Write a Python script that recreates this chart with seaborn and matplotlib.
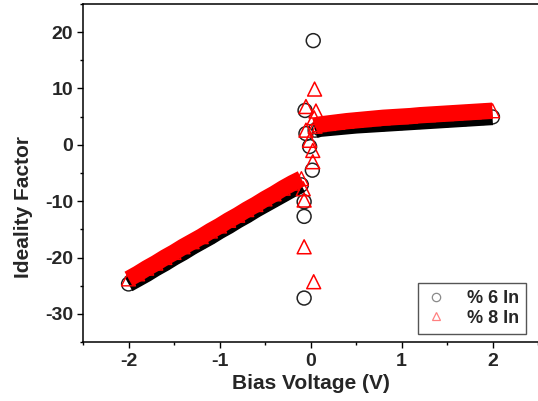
import numpy as np
import pandas as pd
import matplotlib
matplotlib.use("Agg")
import matplotlib.pyplot as plt
from matplotlib.lines import Line2D
from matplotlib.ticker import MultipleLocator
import seaborn as sns

# ---------------- data ----------------
neg_x = [-2.0, -1.9, -1.8, -1.7, -1.6, -1.5, -1.4, -1.3, -1.2, -1.1,
         -1.0, -0.9, -0.8, -0.7, -0.6, -0.5, -0.4, -0.3, -0.2, -0.1]
pos_x = [0.05, 0.1, 0.2, 0.3, 0.4, 0.5, 0.6, 0.7, 0.8, 0.9, 1.0,
         1.1, 1.2, 1.3, 1.4, 1.5, 1.6, 1.7, 1.8, 1.9, 2.0]

in6_neg = [-24.7, -23.8, -22.9, -21.9, -21.0, -20.0, -19.1, -18.1, -17.2, -16.3,
           -15.3, -14.4, -13.4, -12.5, -11.5, -10.6, -9.7, -8.8, -7.9, -7.1]
in8_neg = [-23.8, -22.9, -21.9, -21.0, -20.0, -19.1, -18.1, -17.2, -16.3, -15.3,
           -14.4, -13.4, -12.5, -11.5, -10.6, -9.6, -8.7, -7.7, -6.8, -6.0]

in6_pos = [2.6, 2.85, 3.0, 3.15, 3.3, 3.45, 3.55, 3.65, 3.75, 3.85, 3.95,
           4.05, 4.15, 4.25, 4.35, 4.45, 4.55, 4.65, 4.75, 4.85, 4.95]
in8_pos = [3.3, 3.6, 3.8, 4.0, 4.2, 4.35, 4.5, 4.65, 4.8, 4.9, 5.0,
           5.1, 5.25, 5.35, 5.45, 5.55, 5.65, 5.75, 5.85, 5.95, 6.05]

# scattered points close to 0 V
in6_zero_x = [0.03, -0.06, -0.05, -0.01, 0.02, -0.07, -0.07, -0.07]
in6_zero_y = [18.5, 6.1, 2.0, -0.3, -4.5, -10.1, -12.7, -27.2]
in8_zero_x = [0.045, -0.05, 0.06, 0.04, -0.05, -0.01, 0.025, 0.025, -0.08, -0.07, -0.07, 0.035]
in8_zero_y = [9.9, 6.8, 6.0, 4.8, 2.6, 0.8, -1.0, -3.0, -7.8, -9.8, -18.1, -24.3]

labels = ["% 6 In", "% 8 In"]
x_ticks = [-2, -1, 0, 1, 2]
y_ticks = [-30, -20, -10, 0, 10, 20]

# ---------------- style ----------------
sns.set_theme(style="ticks")
plt.rcParams["font.family"] = ["Liberation Sans", "DejaVu Sans"]
plt.rcParams["font.weight"] = "bold"
plt.rcParams["axes.unicode_minus"] = False

BLACK = "#000000"
RED = "#ff0000"

fig = plt.figure(figsize=(5.38, 4.01), dpi=100)
ax = fig.add_axes([83 / 538, 1 - 342 / 401, 1 - 83 / 538, (342 - 4) / 401])

band_lw = 11.8
ms = 100

# 6 In (black circles)
for xs, ys in [(neg_x, in6_neg), (pos_x, in6_pos)]:
    sns.scatterplot(x=xs, y=ys, ax=ax, marker="o", s=ms, facecolor="none",
                    edgecolor="#1a1a1a", linewidth=1.0, zorder=1.5)
    sns.lineplot(x=xs, y=ys, ax=ax, color=BLACK, lw=band_lw, sort=False,
                 solid_capstyle="butt", solid_joinstyle="round", zorder=2)
sns.scatterplot(x=in6_zero_x, y=in6_zero_y, ax=ax, marker="o", s=ms,
                facecolor="none", edgecolor="#222222", linewidth=1.1, zorder=3)

# 8 In (red triangles)
for xs, ys in [(neg_x, in8_neg), (pos_x, in8_pos)]:
    sns.scatterplot(x=xs, y=ys, ax=ax, marker="^", s=ms, facecolor="none",
                    edgecolor=RED, linewidth=1.0, zorder=3.5)
    sns.lineplot(x=xs, y=ys, ax=ax, color=RED, lw=band_lw, sort=False,
                 solid_capstyle="butt", solid_joinstyle="round", zorder=4)
sns.scatterplot(x=in8_zero_x, y=in8_zero_y, ax=ax, marker="^", s=ms,
                facecolor="none", edgecolor=RED, linewidth=1.1, zorder=5)

# ---------------- axes ----------------
ax.set_xlim(-2.5, 2.5)
ax.set_ylim(-35, 25)
ax.set_xticks(x_ticks)
ax.set_xticklabels([str(v) for v in x_ticks])
ax.set_yticks(y_ticks)
ax.set_yticklabels([str(v) for v in y_ticks])
ax.xaxis.set_minor_locator(MultipleLocator(0.5))
ax.yaxis.set_minor_locator(MultipleLocator(5))

for side in ["left", "bottom", "top"]:
    ax.spines[side].set_visible(True)
    ax.spines[side].set_linewidth(1.1)
    ax.spines[side].set_color("black")
ax.spines["right"].set_visible(False)

ax.tick_params(axis="both", which="major", direction="out", length=4.2,
               width=1.0, color="black", labelsize=14)
ax.tick_params(axis="both", which="minor", direction="out", length=2.2,
               width=1.0, color="black")
ax.tick_params(axis="x", which="both", top=False, pad=4)
ax.tick_params(axis="y", which="both", right=False, pad=3)
for lab in ax.get_xticklabels() + ax.get_yticklabels():
    lab.set_fontweight("bold")

ax.set_xlabel("Bias Voltage (V)", fontsize=15, fontweight="bold")
ax.set_ylabel("Ideality Factor", fontsize=15, fontweight="bold")
ax.xaxis.set_label_coords(0.5, -0.095)
ax.yaxis.set_label_coords(-0.11, 0.40)

handles = [
    Line2D([], [], marker="o", ls="none", mfc="none", mec="#8a8a8a", ms=6, mew=0.9),
    Line2D([], [], marker="^", ls="none", mfc="none", mec="#ff8080", ms=6, mew=0.9),
]
leg = ax.legend(handles, labels, loc="lower right", bbox_to_anchor=(0.974, 0.024),
                borderaxespad=0, frameon=True, fancybox=False, framealpha=1,
                edgecolor="#555555", fontsize=13, handlelength=1.2,
                handletextpad=1.1, labelspacing=0.12, borderpad=0.4)
leg.get_frame().set_linewidth(1.0)
for t in leg.get_texts():
    t.set_fontweight("bold")

fig.savefig("out.png", dpi=100)
